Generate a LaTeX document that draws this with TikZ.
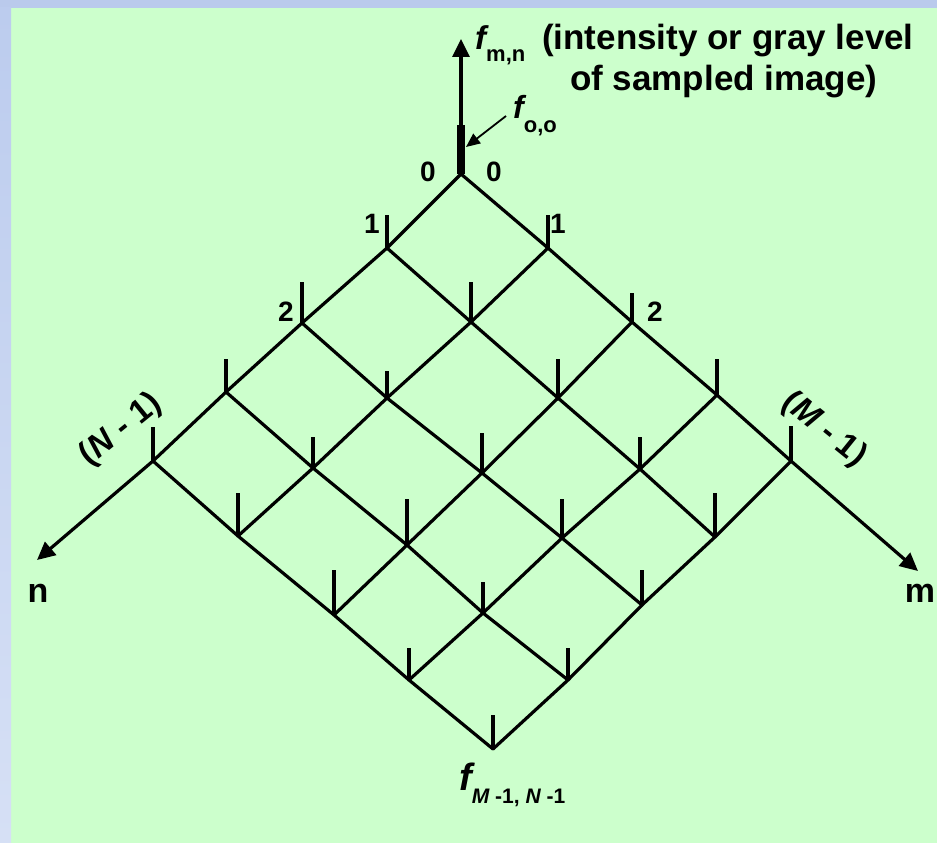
\documentclass[tikz,border=0pt]{standalone}
\usepackage{fontspec}
\setmainfont{Liberation Sans}
\usetikzlibrary{arrows.meta}
\definecolor{bggreen}{RGB}{204,255,204}
\definecolor{topblue}{RGB}{186,202,236}
\definecolor{sidetop}{RGB}{188,204,238}
\definecolor{sidebot}{RGB}{214,224,245}
\newcommand\fsz[1]{\fontsize{#1}{#1}\selectfont}
\begin{document}
\begin{tikzpicture}[x=1pt,y=-1pt,
  gridline/.style={line width=3.2pt, line cap=round, line join=round},
  tickline/.style={line width=3.2pt},
  axis/.style={line width=3.2pt, -{Triangle[length=18pt,width=17pt]}},
  ptr/.style={line width=1.8pt, -{Triangle[length=14pt,width=12pt]}},
  lab/.style={inner sep=0pt, font=\bfseries},
  ]
\useasboundingbox (0,0) rectangle (937,843);
\fill[bggreen] (0,0) rectangle (937,843);
\fill[topblue] (0,0) rectangle (937,8);
\shade[top color=sidetop, bottom color=sidebot] (0,8) rectangle (11,843);

% grid points
\foreach \m/\n/\x/\y in {
  0/0/461/174, 1/0/548/248, 2/0/632/322, 3/0/717/395, 4/0/791/461,
  0/1/387/248, 1/1/471/322, 2/1/558/398, 3/1/640/469, 4/1/715/537,
  0/2/302/323, 1/2/387/398, 2/2/482/473, 3/2/562/538, 4/2/642/605,
  0/3/226/392, 1/3/313/468, 2/3/407/545, 3/3/483/613, 4/3/568/680,
  0/4/153/461, 1/4/238/536, 2/4/334/615, 3/4/409/680, 4/4/493/749}
  \coordinate (p\m\n) at (\x,\y);

\coordinate (ftip) at (461,39);
\coordinate (ntip) at (37,560);
\coordinate (mtip) at (918,571);
\coordinate (ptrstart) at (506,116);
\coordinate (ptrend) at (466,147);

% grid lines
\foreach \n in {0,...,4}
  \draw[gridline] (p0\n) -- (p1\n) -- (p2\n) -- (p3\n) -- (p4\n);
\foreach \m in {0,...,4}
  \draw[gridline] (p\m0) -- (p\m1) -- (p\m2) -- (p\m3) -- (p\m4);

% ticks (sample values)
\foreach \m/\n/\l in {
  1/0/33, 2/0/29, 3/0/36, 4/0/35,
  0/1/33, 1/1/40, 2/1/39, 3/1/32, 4/1/44,
  0/2/41, 1/2/27, 2/2/40, 3/2/39, 4/2/35,
  0/3/33, 1/3/31, 2/3/46, 3/3/31, 4/3/32,
  0/4/34, 1/4/43, 2/4/45, 3/4/32, 4/4/34}
  \draw[tickline] (p\m\n) -- ++(0,-\l);

% axes
\draw[axis] (p00) -- (ftip);
\draw[line width=8pt] (p00) -- ++(0,-49);
\draw[axis] (p04) -- (ntip);
\draw[axis] (p40) -- (mtip);
\draw[ptr] (ptrstart) -- (ptrend);

% labels
\node[lab, anchor=base west] (fmn) at (475,50)
  {\fsz{33}\itshape f\raisebox{-12pt}{\fsz{22}\upshape m,n}};
\node[lab, anchor=base west] (title1) at (542,50) {\fsz{35}(intensity or gray level};
\node[lab, anchor=base west] (title2) at (570,90) {\fsz{35}of sampled image)};
\node[lab, anchor=base west] (foo) at (513,118)
  {\fsz{32}\itshape f\raisebox{-14pt}{\fsz{22}\upshape o,o}};
\node[lab, anchor=base west] (fMN) at (459,790)
  {\fsz{38}\itshape f\raisebox{-13pt}{\fsz{21}M\upshape{} -1, \itshape N\upshape{} -1}};

\node[lab] (zl) at (428,172) {\fsz{28}0};
\node[lab] (zr) at (494,172) {\fsz{28}0};
\node[lab] (ol) at (372,224) {\fsz{28}1};
\node[lab] (or) at (558,224) {\fsz{28}1};
\node[lab] (tl) at (286,312) {\fsz{28}2};
\node[lab] (tr) at (655,312) {\fsz{28}2};
\node[lab, rotate=39] (nm1) at (121,430) {\fsz{33}(\textit{N} - 1)};
\node[lab, rotate=-39] (mm1) at (824,430) {\fsz{33}(\textit{M} - 1)};
\node[lab] (nlab) at (38,593) {\fsz{34}n};
\node[lab] (mlab) at (920,593) {\fsz{34}m};
\end{tikzpicture}
\end{document}
